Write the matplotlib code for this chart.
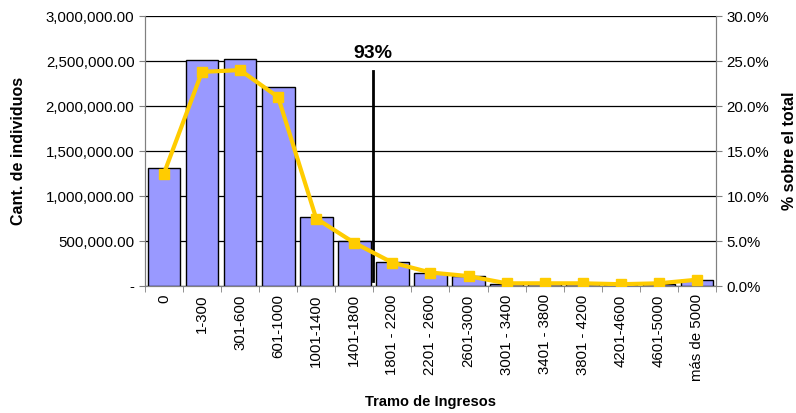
import matplotlib.pyplot as plt
import numpy as np
from matplotlib.ticker import FuncFormatter, FixedLocator

plt.rcParams['font.family'] = ['Liberation Sans', 'DejaVu Sans']

# datos
tramos = ['0', '1-300', '301-600', '601-1000', '1001-1400', '1401-1800',
          '1801 - 2200', '2201 - 2600', '2601-3000', '3001 - 3400',
          '3401 - 3800', '3801 - 4200', '4201-4600', '4601-5000', 'más de 5000']
individuos = [1311000, 2510000, 2525000, 2215000, 765000, 505000,
              265000, 145000, 110000, 22000,
              22000, 22000, 15000, 25000, 65000]
porcentaje = [12.5, 23.8, 24.0, 21.0, 7.5, 4.8,
              2.6, 1.5, 1.1, 0.3,
              0.3, 0.3, 0.2, 0.3, 0.7]
marca_corte = 6  # limite entre 1401-1800 y 1801-2200
marca_texto = '93%'
marca_altura = 2390000

fig = plt.figure(figsize=(7.96, 4.13), dpi=100)
ax = fig.add_axes([0.182, 0.3075, 0.7175, 0.6535])
ax2 = ax.twinx()

x = np.arange(len(tramos))
ax.bar(x, individuos, width=0.86, color='#9999FF', edgecolor='black', linewidth=1, zorder=3)
ax.set_xlim(-0.5, len(tramos) - 0.5)
ax.set_ylim(0, 3000000)
ax.set_yticks(np.arange(0, 3000001, 500000))
ax.yaxis.set_major_formatter(FuncFormatter(lambda v, p: '-' if v == 0 else f'{v:,.2f}'))
ax.grid(axis='y', color='black', linewidth=0.9, zorder=0)
ax.set_axisbelow(True)

# linea de corte
ax.plot([marca_corte - 0.5, marca_corte - 0.5], [60000, marca_altura], color='black', linewidth=2, zorder=4)
ax.text(marca_corte - 0.52, marca_altura + 100000, marca_texto, ha='center', va='bottom',
        fontsize=14, fontweight='bold')

ax.set_xticks(x)
ax.set_xticklabels(tramos, rotation=90, fontsize=10.8)
ax.xaxis.set_minor_locator(FixedLocator(np.arange(-0.5, len(tramos), 1)))
ax.tick_params(axis='x', which='major', length=0, pad=6)
ax.tick_params(axis='x', which='minor', length=4, direction='out', color='gray')
ax.tick_params(axis='y', labelsize=10.8, length=4, color='gray')
ax.set_xlabel('Tramo de Ingresos', fontsize=10.5, fontweight='bold')
ax.set_ylabel('Cant. de individuos', fontsize=11.5, fontweight='bold')
ax.xaxis.set_label_coords(0.5, -0.404)
ax.yaxis.set_label_coords(-0.209, 0.5)

for s in ['top']:
    ax.spines[s].set_visible(False)
    ax2.spines[s].set_visible(False)
for s in ['left', 'bottom', 'right']:
    ax.spines[s].set_color('gray')
    ax2.spines[s].set_color('gray')

ax2.plot(x, porcentaje, color='#FFCC00', linewidth=3, marker='s', markersize=7, zorder=5)
ax2.set_ylim(0, 30)
ax2.set_yticks(np.arange(0, 31, 5))
ax2.yaxis.set_major_formatter(FuncFormatter(lambda v, p: f'{v:.1f}%'))
ax2.tick_params(axis='y', labelsize=10.8, length=4, color='gray')
ax2.set_ylabel('% sobre el total', fontsize=11.5, fontweight='bold')
ax2.yaxis.set_label_coords(1.115, 0.5)

fig.savefig('out.png', dpi=100)
